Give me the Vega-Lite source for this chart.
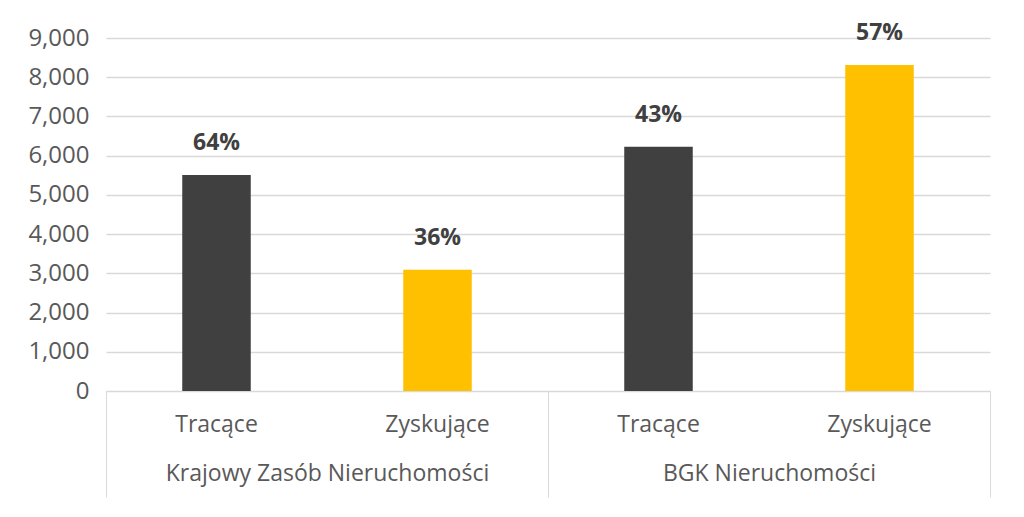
{
  "$schema": "https://vega.github.io/schema/vega-lite/v6.json",
  "autosize": {"type": "none"},
  "padding": {"left": 106, "top": 38, "right": 34, "bottom": 126},
  "width": 884,
  "height": 353,
  "background": "#ffffff",
  "config": {"view": {"stroke": null}, "font": "Open Sans"},
  "data": {
    "values": [
      {"group": "Krajowy Zasób Nieruchomości", "sub": "Tracące", "value": 5510, "pct": "64%"},
      {"group": "Krajowy Zasób Nieruchomości", "sub": "Zyskujące", "value": 3090, "pct": "36%"},
      {"group": "BGK Nieruchomości", "sub": "Tracące", "value": 6230, "pct": "43%"},
      {"group": "BGK Nieruchomości", "sub": "Zyskujące", "value": 8310, "pct": "57%"}
    ]
  },
  "encoding": {
    "x": {
      "field": "group", "type": "nominal", "sort": null,
      "scale": {"paddingInner": 0, "paddingOuter": 0},
      "axis": {
        "title": null, "labelAngle": 0, "labelLimit": 0, "tickBand": "extent", "tickSize": 106,
        "tickColor": "#d9d9d9", "domainColor": "#d9d9d9", "labelPadding": -35,
        "labelFont": "Open Sans", "labelFontSize": 23, "labelColor": "#595959"
      }
    },
    "xOffset": {
      "field": "sub", "type": "nominal", "sort": null,
      "scale": {"paddingInner": 0.69, "paddingOuter": 0.345}
    },
    "y": {
      "field": "value", "type": "quantitative",
      "scale": {"domain": [0, 9000]},
      "axis": {
        "title": null, "values": [0, 1000, 2000, 3000, 4000, 5000, 6000, 7000, 8000, 9000],
        "format": ",.0f", "grid": true, "gridColor": "#d9d9d9", "gridWidth": 1.5,
        "domain": false, "ticks": false, "labelPadding": 17,
        "labelFont": "Open Sans", "labelFontSize": 24, "labelColor": "#595959"
      }
    }
  },
  "layer": [
    {
      "mark": {"type": "bar"},
      "encoding": {
        "color": {
          "field": "sub", "type": "nominal",
          "scale": {"domain": ["Tracące", "Zyskujące"], "range": ["#404040", "#ffc000"]},
          "legend": null
        }
      }
    },
    {
      "mark": {"type": "text", "baseline": "middle", "dy": -32, "fontSize": 23, "fontWeight": "bold", "color": "#404040"},
      "encoding": {"text": {"field": "pct"}}
    },
    {
      "mark": {"type": "text", "baseline": "middle", "dy": 34, "fontSize": 23, "color": "#595959"},
      "encoding": {
        "y": {"datum": 0, "type": "quantitative"},
        "text": {"field": "sub"}
      }
    }
  ]
}
